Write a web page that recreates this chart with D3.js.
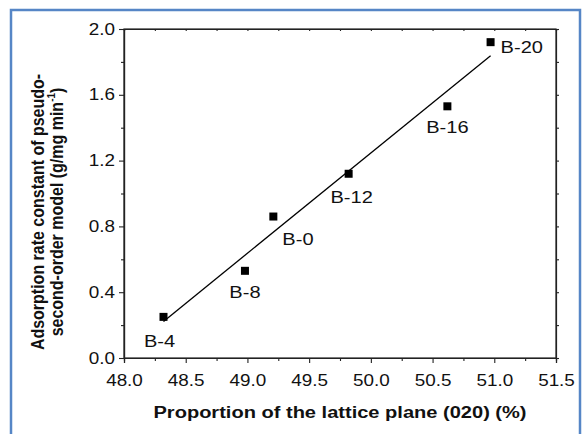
<!DOCTYPE html>
<html>
<head>
<meta charset="utf-8">
<script src="https://cdn.jsdelivr.net/npm/d3@7"></script>
<style>
  body { margin: 0; background: #fff; }
  text { font-family: "Liberation Sans", Arial, sans-serif; fill: #111; }
</style>
</head>
<body>
<svg></svg>
<script>
// samples: (020) plane proportion vs pseudo-second-order rate constant
var names = ["B-4", "B-8", "B-0", "B-12", "B-16", "B-20"];
var planeShare = [48.32, 48.98, 49.21, 49.82, 50.62, 50.97];
var rateConst = [0.25, 0.53, 0.86, 1.12, 1.53, 1.92];

var xTicks = [48.0, 48.5, 49.0, 49.5, 50.0, 50.5, 51.0, 51.5];
var yTicks = [0.0, 0.4, 0.8, 1.2, 1.6, 2.0];

// label placement next to each square (px)
var labelDx = [-4, 0, 9, 3, 0, 10];
var labelDy = [30, 27, 28, 29, 27, 11];
var labelAnchor = ["middle", "middle", "start", "middle", "middle", "start"];

var W = 583, H = 434;
var sx = 1.18; // picture is a bit wider than tall, so text is stretched

var svg = d3.select("svg").attr("width", W).attr("height", H);

// blue frame around the figure (bottom edge is off the picture)
svg.append("path")
  .attr("d", "M11,440 L11,10 L580,10 L580,440")
  .attr("fill", "none")
  .attr("stroke", "#5686c6")
  .attr("stroke-width", 2.5);

var x = d3.scaleLinear().domain([48, 51.5]).range([124, 556]);
var y = d3.scaleLinear().domain([0, 2]).range([358, 29]);

function minors(t) {
  return d3.pairs(t).map(function(p) { return (p[0] + p[1]) / 2; });
}

// box
svg.append("rect")
  .attr("x", x(48)).attr("y", y(2))
  .attr("width", x(51.5) - x(48)).attr("height", y(0) - y(2))
  .attr("fill", "none").attr("stroke", "#222").attr("stroke-width", 1.2);

var gx = svg.append("g").attr("transform", "translate(0," + y(0) + ")")
  .call(d3.axisBottom(x).tickValues(xTicks).tickFormat(d3.format(".1f"))
    .tickSize(5).tickPadding(11.5));
svg.append("g").attr("transform", "translate(0," + y(0) + ")")
  .call(d3.axisBottom(x).tickValues(minors(xTicks)).tickFormat("").tickSize(3));

var gy = svg.append("g").attr("transform", "translate(" + x(48) + ",0)")
  .call(d3.axisLeft(y).tickValues(yTicks).tickFormat(d3.format(".1f"))
    .tickSize(5).tickPadding(4));
svg.append("g").attr("transform", "translate(" + x(48) + ",0)")
  .call(d3.axisLeft(y).tickValues(minors(yTicks)).tickFormat("").tickSize(3));

// mirrored ticks on top and right
svg.append("g").attr("transform", "translate(0," + y(2) + ")")
  .call(d3.axisTop(x).tickValues(xTicks.concat(minors(xTicks))).tickFormat("").tickSize(-2));
svg.append("g").attr("transform", "translate(" + x(51.5) + ",0)")
  .call(d3.axisRight(y).tickValues(yTicks.concat(minors(yTicks))).tickFormat("").tickSize(3));

svg.selectAll(".domain").attr("stroke", "#222").attr("stroke-width", 1.2);
svg.selectAll(".tick line").attr("stroke", "#222").attr("stroke-width", 1.1);

gx.selectAll("text")
  .attr("font-size", 16)
  .attr("transform", "scale(" + sx + ",1)");
gy.selectAll("text")
  .attr("font-size", 16)
  .attr("x", -9 / sx)
  .attr("transform", "scale(" + sx + ",1)");

// least-squares fit line
var mx = d3.mean(planeShare), my = d3.mean(rateConst);
var sxy = d3.sum(planeShare, function(v, i) { return (v - mx) * (rateConst[i] - my); });
var sxx = d3.sum(planeShare, function(v) { return (v - mx) * (v - mx); });
var slope = sxy / sxx, icpt = my - slope * mx;
var x0 = d3.min(planeShare), x1 = d3.max(planeShare);

svg.append("line")
  .attr("x1", x(x0)).attr("y1", y(icpt + slope * x0))
  .attr("x2", x(x1)).attr("y2", y(icpt + slope * x1))
  .attr("stroke", "#000").attr("stroke-width", 1.3);

// markers
var sq = 8;
svg.selectAll("rect.pt")
  .data(names)
  .enter()
  .append("rect")
  .attr("class", "pt")
  .attr("x", function(d, i) { return x(planeShare[i]) - sq / 2; })
  .attr("y", function(d, i) { return y(rateConst[i]) - sq / 2; })
  .attr("width", sq).attr("height", sq)
  .attr("fill", "#000");

svg.selectAll("text.lab")
  .data(names)
  .enter()
  .append("text")
  .attr("class", "lab")
  .attr("font-size", 17)
  .attr("text-anchor", function(d, i) { return labelAnchor[i]; })
  .attr("transform", function(d, i) {
    return "translate(" + (x(planeShare[i]) + labelDx[i]) + "," + (y(rateConst[i]) + labelDy[i]) + ") scale(" + sx + ",1)";
  })
  .text(function(d) { return d; });

// axis titles
svg.append("text")
  .attr("font-size", 17).attr("font-weight", "bold")
  .attr("text-anchor", "middle")
  .attr("transform", "translate(340,418) scale(" + sx + ",1)")
  .text("Proportion of the lattice plane (020) (%)");

var yt = svg.append("text")
  .attr("font-size", 16).attr("font-weight", "bold")
  .attr("text-anchor", "middle")
  .attr("transform", "translate(0,212) rotate(-90) scale(1," + sx + ")");
yt.append("tspan").attr("x", 0).attr("y", 44 / sx).text("Adsorption rate constant of pseudo-");
yt.append("tspan").attr("x", 0).attr("y", 63 / sx).text("second-order model (g/mg min");
yt.append("tspan").attr("font-size", 10).attr("dy", -7).text("-1");
yt.append("tspan").attr("dy", 7).text(")");
</script>
</body>
</html>
